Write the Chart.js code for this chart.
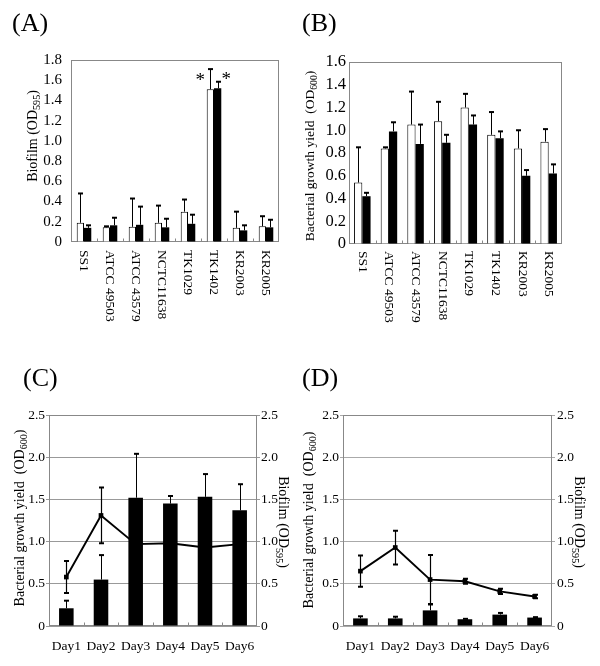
<!DOCTYPE html>
<html><head><meta charset="utf-8">
<script src="https://cdn.jsdelivr.net/npm/chart.js@4.4.1/dist/chart.umd.min.js"></script>
<style>
html,body{margin:0;padding:0;background:#fff;}
#wrap{position:relative;width:600px;height:666px;overflow:hidden;}
canvas{position:absolute;left:0;top:0;}
</style></head><body>
<div id="wrap">
<canvas id="cA" width="600" height="666"></canvas>
<canvas id="cB" width="600" height="666"></canvas>
<canvas id="cC" width="600" height="666"></canvas>
<canvas id="cD" width="600" height="666"></canvas>
</div>
<script>
const FONT = "'Liberation Serif','Times New Roman',Times,serif";

// ---------- data ----------
const strains = ['SS1','ATCC 49503','ATCC 43579','NCTC11638','TK1029','TK1402','KR2003','KR2005'];
// (A) biofilm OD595
const biofilmOpen      = [0.19, 0.145, 0.15, 0.19, 0.30, 1.51, 0.14, 0.155];
const biofilmOpenErr   = [0.29, 0.01, 0.28, 0.17, 0.12, 0.20, 0.16, 0.10];
const biofilmFilled    = [0.14, 0.165, 0.17, 0.145, 0.18, 1.52, 0.115, 0.145];
const biofilmFilledErr = [0.025, 0.075, 0.18, 0.085, 0.09, 0.065, 0.05, 0.075];
// (B) growth OD600
const growthOpen      = [0.54, 0.84, 1.05, 1.08, 1.20, 0.96, 0.84, 0.90];
const growthOpenErr   = [0.31, 0.01, 0.29, 0.17, 0.12, 0.20, 0.16, 0.11];
const growthFilled    = [0.42, 0.99, 0.88, 0.89, 1.05, 0.93, 0.60, 0.62];
const growthFilledErr = [0.03, 0.08, 0.17, 0.07, 0.08, 0.06, 0.05, 0.08];
// (C) / (D) time course
const days = ['Day1','Day2','Day3','Day4','Day5','Day6'];
const cBiofilm    = [0.21, 0.55, 1.52, 1.45, 1.53, 1.37];
const cBiofilmErr = [0.09, 0.29, 0.52, 0.09, 0.27, 0.31];
const cGrowth     = [0.58, 1.31, 0.97, 0.98, 0.93, 0.97];
const cGrowthErr  = [0.19, 0.33, 0.05, 0.05, 0.05, 0.05];
const dBiofilm    = [0.09, 0.09, 0.185, 0.08, 0.135, 0.10];
const dBiofilmErr = [0.025, 0.02, 0.07, 0.005, 0.02, 0.005];
const dGrowth     = [0.65, 0.93, 0.55, 0.53, 0.41, 0.35];
const dGrowthErr  = [0.185, 0.20, 0.29, 0.03, 0.03, 0.02];

const fmt = v => (Math.abs(v) < 1e-9 ? '0' : v.toFixed(1));

// ---------- plugins ----------
const errorBarPlugin = {
  id: 'errorBars',
  afterDatasetsDraw(chart) {
    const ctx = chart.ctx;
    chart.data.datasets.forEach((ds, i) => {
      if (!ds.errors) return;
      const meta = chart.getDatasetMeta(i);
      const scale = chart.scales[meta.yAxisID];
      ctx.save();
      ctx.strokeStyle = '#000';
      meta.data.forEach((el, j) => {
        const v = ds.data[j], e = ds.errors[j];
        const x = Math.round(el.x) + 0.5;
        const yt = scale.getPixelForValue(v + e);
        const yb = ds.errBoth ? scale.getPixelForValue(v - e) : el.y;
        const cw = ds.capWidth || 2.5;
        ctx.lineWidth = ds.errLineWidth || 1;
        ctx.beginPath();
        ctx.moveTo(x, yb); ctx.lineTo(x, yt);
        ctx.stroke();
        ctx.lineWidth = 2;
        ctx.beginPath();
        ctx.moveTo(x - cw, yt); ctx.lineTo(x + cw, yt);
        if (ds.errBoth) { ctx.moveTo(x - cw, yb); ctx.lineTo(x + cw, yb); }
        ctx.stroke();
      });
      ctx.restore();
    });
  }
};

function drawTitle(ctx, t) {
  const size = t.size, sub = size * 0.72;
  const fMain = size + 'px ' + FONT, fSub = sub + 'px ' + FONT;
  ctx.save();
  ctx.font = fMain; const w1 = ctx.measureText(t.pre).width; const w3 = ctx.measureText(t.post).width;
  ctx.font = fSub; const w2 = ctx.measureText(t.sub).width;
  const total = w1 + w2 + w3;
  ctx.translate(t.x, t.y);
  ctx.rotate(t.rot);
  ctx.fillStyle = '#000';
  ctx.textAlign = 'left'; ctx.textBaseline = 'alphabetic';
  const by = size * 0.33;
  let x = -total / 2;
  ctx.font = fMain; ctx.fillText(t.pre, x, by); x += w1;
  ctx.font = fSub; ctx.fillText(t.sub, x, by + size * 0.22); x += w2;
  ctx.font = fMain; ctx.fillText(t.post, x, by);
  ctx.restore();
}

const decoPlugin = {
  id: 'deco',
  beforeDatasetsDraw(chart, args, o) {
    const {ctx, chartArea: a} = chart;
    ctx.save();
    ctx.strokeStyle = o.boxColor; ctx.lineWidth = 1;
    const L = Math.round(a.left) + 0.5, T = Math.round(a.top) + 0.5;
    const R = Math.round(a.right) - 0.5, B = Math.round(a.bottom) - 0.5;
    ctx.strokeRect(L, T, R - L, B - T);
    const xs = chart.scales.x, n = chart.data.labels.length;
    ctx.beginPath();
    for (let i = 0; i < n - 1; i++) {
      const bx = Math.round((xs.getPixelForValue(i) + xs.getPixelForValue(i + 1)) / 2) + 0.5;
      ctx.moveTo(bx, B); ctx.lineTo(bx, B - o.tickLen);
    }
    ctx.stroke();
    ctx.restore();
  },
  afterDraw(chart, args, o) {
    const ctx = chart.ctx, a = chart.chartArea;
    ctx.save();
    ctx.fillStyle = '#000';
    ctx.font = o.panelSize + 'px ' + FONT;
    ctx.textAlign = 'left'; ctx.textBaseline = 'alphabetic';
    ctx.fillText(o.panel, o.panelX, o.panelY);
    const xs = chart.scales.x;
    ctx.font = o.xFont + 'px ' + FONT;
    chart.data.labels.forEach((lab, i) => {
      const x = xs.getPixelForValue(i);
      if (o.xRotate) {
        ctx.save(); ctx.translate(x, a.bottom + o.xGap); ctx.rotate(Math.PI / 2);
        ctx.textAlign = 'left'; ctx.textBaseline = 'middle'; ctx.fillText(lab, 0, 0); ctx.restore();
      } else {
        ctx.textAlign = 'center'; ctx.textBaseline = 'middle'; ctx.fillText(lab, x, a.bottom + o.xGap);
      }
    });
    (o.titles || []).forEach(t => drawTitle(ctx, t));
    (o.stars || []).forEach(s => {
      const meta = chart.getDatasetMeta(s.ds);
      const el = meta.data[s.i];
      ctx.font = s.size + 'px ' + FONT;
      ctx.textAlign = 'center'; ctx.textBaseline = 'alphabetic';
      ctx.fillText('*', el.x + s.dx, el.y + s.dy);
    });
    ctx.restore();
  }
};

Chart.defaults.font.family = FONT;
Chart.defaults.color = '#000';

function base(padding, deco) {
  return {
    responsive: false, animation: false, events: [],
    layout: { padding },
    plugins: { legend: { display: false }, tooltip: { enabled: false }, deco }
  };
}

// ---------- (A) ----------
const optA = base({ left: 31, right: 321, top: 60, bottom: 424 }, {
  panel: '(A)', panelX: 12, panelY: 31, panelSize: 26, boxColor: '#888', tickLen: 3,
  xFont: 13.5, xRotate: true, xGap: 8,
  titles: [{ x: 32, y: 136, rot: -Math.PI / 2, size: 14, pre: 'Biofilm (OD', sub: '595', post: ')' }],
  stars: [{ ds: 0, i: 5, dx: -10, dy: -3, size: 19 }, { ds: 1, i: 5, dx: 8.5, dy: -3, size: 19 }]
});
optA.scales = {
  x: { display: false, ticks: { autoSkip: false } },
  y: { min: 0, max: 1.8, afterFit(s) { s.width = 40; },
       ticks: { stepSize: 0.2, autoSkip: false, padding: 9, font: { size: 15 }, color: '#000', callback: fmt },
       grid: { drawOnChartArea: false, drawTicks: false }, border: { display: false } }
};
new Chart(document.getElementById('cA'), {
  type: 'bar',
  data: { labels: strains, datasets: [
    { data: biofilmOpen, errors: biofilmOpenErr, backgroundColor: '#fff', borderColor: '#000', borderWidth: 1, categoryPercentage: 0.56, barPercentage: 1 },
    { data: biofilmFilled, errors: biofilmFilledErr, backgroundColor: '#000', borderColor: '#000', borderWidth: 0, categoryPercentage: 0.56, barPercentage: 1 }
  ]},
  options: optA, plugins: [decoPlugin, errorBarPlugin]
});

// ---------- (B) ----------
const optB = base({ left: 309, right: 38, top: 62, bottom: 422 }, {
  panel: '(B)', panelX: 302, panelY: 31, panelSize: 26, boxColor: '#888', tickLen: 3,
  xFont: 13.5, xRotate: true, xGap: 7,
  titles: [{ x: 310, y: 156, rot: -Math.PI / 2, size: 13.5, pre: 'Bacterial growth yield  (OD', sub: '600', post: ')' }]
});
optB.scales = {
  x: { display: false, ticks: { autoSkip: false } },
  y: { min: 0, max: 1.6, afterFit(s) { s.width = 40; },
       ticks: { stepSize: 0.2, autoSkip: false, padding: 3, font: { size: 16.5 }, color: '#000', callback: fmt },
       grid: { drawOnChartArea: false, drawTicks: false }, border: { display: false } }
};
new Chart(document.getElementById('cB'), {
  type: 'bar',
  data: { labels: strains, datasets: [
    { data: growthOpen, errors: growthOpenErr, backgroundColor: '#fff', borderColor: '#000', borderWidth: 1, categoryPercentage: 0.62, barPercentage: 1 },
    { data: growthFilled, errors: growthFilledErr, backgroundColor: '#000', borderColor: '#000', borderWidth: 0, categoryPercentage: 0.62, barPercentage: 1 }
  ]},
  options: optB, plugins: [decoPlugin, errorBarPlugin]
});

// ---------- (C) / (D) ----------
function timeChart(id, growth, growthErr, biofilm, biofilmErr, pad, deco, gridColor, lp, rp) {
  const opt = base(pad, deco);
  opt.scales = {
    x: { display: false, ticks: { autoSkip: false } },
    y: { position: 'left', min: 0, max: 2.5, afterFit(s) { s.width = 40; },
         ticks: { stepSize: 0.5, autoSkip: false, padding: lp, font: { size: 13.5 }, color: '#000', callback: fmt },
         grid: { color: gridColor, drawTicks: true, tickLength: 3 }, border: { display: false } },
    y1: { position: 'right', min: 0, max: 2.5, afterFit(s) { s.width = 30; },
         ticks: { stepSize: 0.5, autoSkip: false, padding: rp, font: { size: 13.5 }, color: '#000', callback: fmt },
         grid: { color: gridColor, drawOnChartArea: false, drawTicks: true, tickLength: 3 }, border: { display: false } }
  };
  new Chart(document.getElementById(id), {
    type: 'bar',
    data: { labels: days, datasets: [
      { type: 'line', data: growth, errors: growthErr, errBoth: true, capWidth: 2.5, errLineWidth: 1.2, yAxisID: 'y',
        borderColor: '#000', borderWidth: 1.9, tension: 0, pointStyle: 'rect', pointRadius: 3.3,
        pointBackgroundColor: '#000', pointBorderColor: '#000', pointBorderWidth: 0, order: 0 },
      { type: 'bar', data: biofilm, errors: biofilmErr, yAxisID: 'y1', backgroundColor: '#000', borderWidth: 0,
        categoryPercentage: 0.42, barPercentage: 1, order: 1 }
    ]},
    options: opt, plugins: [decoPlugin, errorBarPlugin]
  });
}

timeChart('cC', cGrowth, cGrowthErr, cBiofilm, cBiofilmErr,
  { left: 9, right: 313, top: 415, bottom: 40 },
  { panel: '(C)', panelX: 23, panelY: 386, panelSize: 26, boxColor: '#888', tickLen: 3,
    xFont: 13.5, xRotate: false, xGap: 20,
    titles: [
      { x: 19, y: 518, rot: -Math.PI / 2, size: 14, pre: 'Bacterial growth yield  (OD', sub: '600', post: ')' },
      { x: 284, y: 522, rot: Math.PI / 2, size: 14, pre: 'Biofilm (OD', sub: '595', post: ')' }
    ] }, '#999', 1, 1);

timeChart('cD', dGrowth, dGrowthErr, dBiofilm, dBiofilmErr,
  { left: 303, right: 18, top: 415, bottom: 40 },
  { panel: '(D)', panelX: 302, panelY: 386, panelSize: 26, boxColor: '#888', tickLen: 3,
    xFont: 13.5, xRotate: false, xGap: 20,
    titles: [
      { x: 308, y: 520, rot: -Math.PI / 2, size: 14, pre: 'Bacterial growth yield  (OD', sub: '600', post: ')' },
      { x: 580, y: 522, rot: Math.PI / 2, size: 14, pre: 'Biofilm (OD', sub: '595', post: ')' }
    ] }, '#aaa', 1, 2);
</script>
</body></html>
